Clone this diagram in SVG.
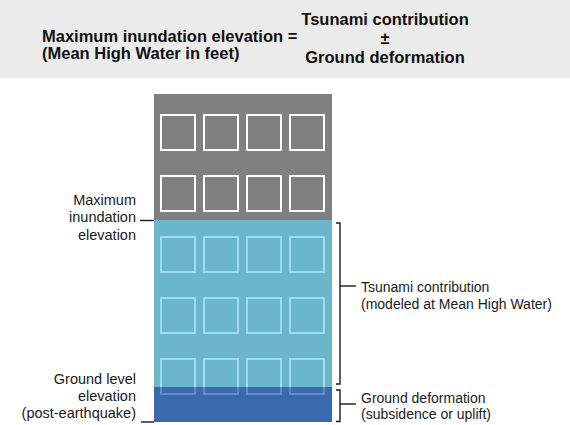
<svg xmlns="http://www.w3.org/2000/svg" width="570" height="425" viewBox="0 0 570 425">
  <style>
    .hb { font-family: "Liberation Sans", Arial, sans-serif; font-weight: bold; font-size: 16.5px; fill: #111; }
    .lb { font-family: "Liberation Sans", Arial, sans-serif; font-size: 14px; fill: #1a1a1a; }
    .ll { font-size: 14.5px; }
    .ln { stroke: #1a1a1a; stroke-width: 1.4; fill: none; }
    .wg { fill: none; stroke: #ffffff; stroke-width: 2; }
    .wl { fill: none; stroke: #9ddcf0; stroke-width: 2; }
    .wd { fill: none; stroke: #5f8dc8; stroke-width: 2; }
  </style>
  <defs>
    <clipPath id="darkclip"><rect x="154" y="387" width="178" height="35"/></clipPath>
    <g id="winrow">
      <rect x="161" y="0" width="34" height="35"/>
      <rect x="204" y="0" width="34" height="35"/>
      <rect x="247" y="0" width="34" height="35"/>
      <rect x="290" y="0" width="34" height="35"/>
    </g>
  </defs>

  <g id="header">
    <rect x="0" y="0" width="570" height="78" fill="#ebebeb"/>
    <text class="hb" x="42" y="42">Maximum inundation elevation =</text>
    <text class="hb" x="42" y="59">(Mean High Water in feet)</text>
    <text class="hb" x="385" y="25" text-anchor="middle">Tsunami contribution</text>
    <text class="hb" x="385" y="44" text-anchor="middle">±</text>
    <text class="hb" x="385" y="63" text-anchor="middle">Ground deformation</text>
  </g>

  <g id="building">
    <rect x="154" y="94" width="178" height="126" fill="#808080"/>
    <use href="#winrow" y="115" class="wg"/>
    <use href="#winrow" y="176" class="wg"/>
  </g>

  <g id="tsunami-water">
    <rect x="154" y="220" width="178" height="167" fill="#6cb6cc"/>
    <use href="#winrow" y="237" class="wl"/>
    <use href="#winrow" y="298" class="wl"/>
    <use href="#winrow" y="359" class="wl"/>
  </g>

  <g id="ground-deformation">
    <rect x="154" y="387" width="178" height="35" fill="#3a69ad"/>
    <g clip-path="url(#darkclip)">
      <use href="#winrow" y="359" class="wd"/>
    </g>
  </g>

  <g id="label-max">
    <text class="lb ll" x="136" y="205" text-anchor="end">Maximum</text>
    <text class="lb ll" x="136" y="222" text-anchor="end">inundation</text>
    <text class="lb ll" x="136" y="240" text-anchor="end">elevation</text>
  </g>

  <g id="label-ground">
    <text class="lb ll" x="136" y="384" text-anchor="end">Ground level</text>
    <text class="lb ll" x="136" y="401" text-anchor="end">elevation</text>
    <text class="lb ll" x="136" y="418" text-anchor="end">(post-earthquake)</text>
  </g>

  <g id="label-tsunami">
    <text class="lb" x="361" y="292">Tsunami contribution</text>
    <text class="lb" x="361" y="309">(modeled at Mean High Water)</text>
  </g>

  <g id="label-deformation">
    <text class="lb" x="361" y="403">Ground deformation</text>
    <text class="lb" x="361" y="419">(subsidence or uplift)</text>
  </g>

  <g id="connectors">
    <path class="ln" d="M140 220.5 H154"/>
    <path class="ln" d="M141 422 H154"/>
    <path class="ln" d="M336 223 H340 V384 H336"/>
    <path class="ln" d="M340 286 H356"/>
    <path class="ln" d="M336 390 H340 V421.5 H336"/>
    <path class="ln" d="M340 404 H356"/>
  </g>
</svg>
